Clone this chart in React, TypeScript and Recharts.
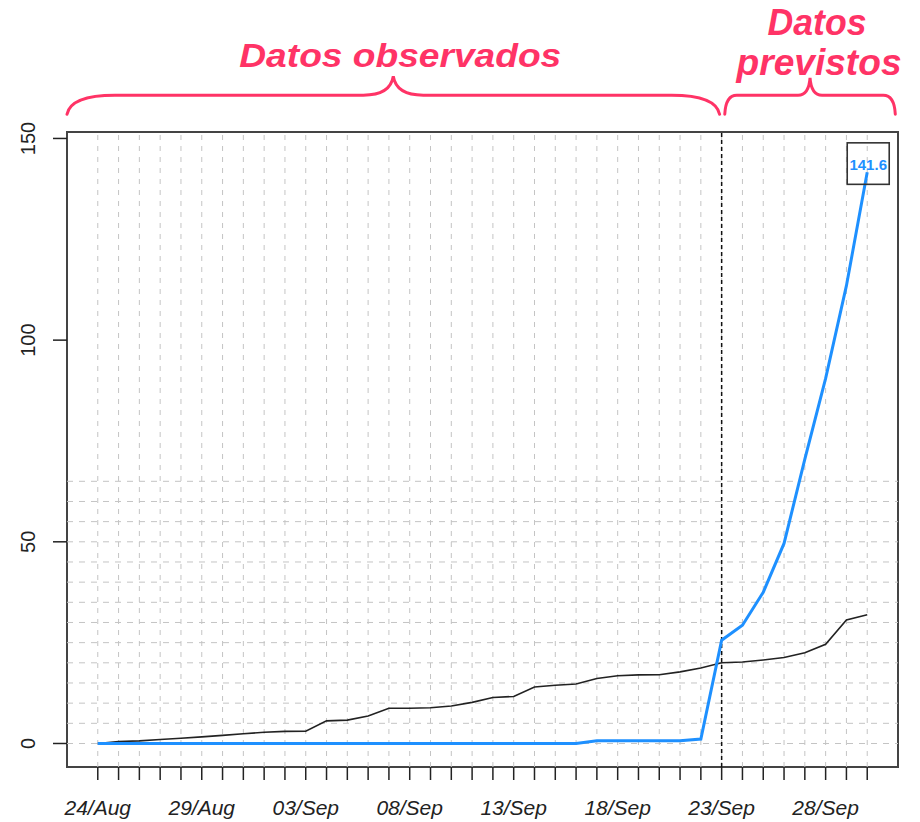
import React from "react";
import { LineChart, Line, XAxis, YAxis, ReferenceLine, ReferenceArea } from "recharts";

const dates = [
  "24/Aug", "25/Aug", "26/Aug", "27/Aug", "28/Aug", "29/Aug", "30/Aug", "31/Aug",
  "01/Sep", "02/Sep", "03/Sep", "04/Sep", "05/Sep", "06/Sep", "07/Sep", "08/Sep",
  "09/Sep", "10/Sep", "11/Sep", "12/Sep", "13/Sep", "14/Sep", "15/Sep", "16/Sep",
  "17/Sep", "18/Sep", "19/Sep", "20/Sep", "21/Sep", "22/Sep", "23/Sep", "24/Sep",
  "25/Sep", "26/Sep", "27/Sep", "28/Sep", "29/Sep", "30/Sep",
];

const observed = [
  0, 0.5, 0.65, 1.0, 1.3, 1.65, 2.0, 2.4, 2.8, 3.0,
  3.05, 5.6, 5.8, 6.8, 8.75, 8.75, 8.85, 9.3, 10.2, 11.4,
  11.65, 14.0, 14.45, 14.75, 16.1, 16.8, 17.0, 17.05, 17.75, 18.7,
  20.0, 20.2, 20.7, 21.3, 22.5, 24.6, 30.6, 31.9,
];

const predicted = [
  0, 0, 0, 0, 0, 0, 0, 0, 0, 0,
  0, 0, 0, 0, 0, 0, 0, 0, 0, 0,
  0, 0, 0, 0, 0.7, 0.7, 0.7, 0.7, 0.7, 1.1,
  25.6, 29.3, 37.5, 49.6, 70.5, 90.5, 113.5, 141.6,
];

const labelDays = [0, 5, 10, 15, 20, 25, 30, 35];
const yTicks = [0, 50, 100, 150];
const hGrid = [0, 5, 10, 15, 20, 25, 30, 35, 40, 45, 50, 55, 60, 65];
const forecastStart = 30;
const xDomain = [-1.48, 38.48];
const yDomain = [-5.83, 151.6];

const data = dates.map((d, i) => ({ day: i, date: d, obs: observed[i], pred: predicted[i] }));
const dayTicks = dates.map((_, i) => i);

const PINK = "#FF3366";
const FONT = "'Liberation Sans', Arial, Helvetica, sans-serif";

const XTick = (props: any) => {
  const { x, y, payload } = props;
  const i = payload.value;
  if (!labelDays.includes(i)) return null;
  return (
    <text x={x} y={y + 35} textAnchor="middle" fontSize={21} fontStyle="italic" fill="#222" fontFamily={FONT}>
      {dates[i]}
    </text>
  );
};

const YTick = (props: any) => {
  const { x, y, payload } = props;
  return (
    <text
      transform={`translate(${x - 18},${y}) rotate(-90)`}
      textAnchor="middle"
      fontSize={20}
      fill="#222"
      fontFamily={FONT}
    >
      {payload.value}
    </text>
  );
};

const makeBrace = (hook: number, cuspW: number, lines: { text: string; dx: number; dy: number; size: number; len: number }[]) =>
  (p: any) => {
    const { x, y, width, height } = p;
    const x0 = x;
    const x1 = x + width;
    const yT = y;
    const yB = y + height;
    const yL = yB - 19;
    const cx = (x0 + x1) / 2;
    const d =
      `M ${x0} ${yB} Q ${x0 + hook * 0.08} ${yL} ${x0 + hook} ${yL} ` +
      `L ${cx - cuspW} ${yL} Q ${cx - cuspW * 0.1} ${yL} ${cx} ${yT} ` +
      `Q ${cx + cuspW * 0.1} ${yL} ${cx + cuspW} ${yL} ` +
      `L ${x1 - hook} ${yL} Q ${x1 - hook * 0.08} ${yL} ${x1} ${yB}`;
    return (
      <g>
        <path d={d} fill="none" stroke={PINK} strokeWidth={3} strokeLinecap="round" />
        {lines.map((l, k) => (
          <text
            key={k}
            x={cx + l.dx}
            y={yT + l.dy}
            textAnchor="middle"
            fontSize={l.size}
            fontWeight="bold"
            fontStyle="italic"
            fill={PINK}
            fontFamily={FONT}
            textLength={l.len}
            lengthAdjust="spacingAndGlyphs"
          >
            {l.text}
          </text>
        ))}
      </g>
    );
  };

const LeftBrace = makeBrace(48, 30, [{ text: "Datos observados", dx: 7, dy: -9.5, size: 34, len: 322 }]);
const RightBrace = makeBrace(12, 12, [
  { text: "Datos", dx: 7, dy: -43, size: 36, len: 99 },
  { text: "previstos", dx: 9, dy: -3, size: 37, len: 165 },
]);

const lastIndex = predicted.length - 1;
const LastLabel = (props: any) => {
  const { x, y, index, value } = props;
  if (index !== lastIndex) return null;
  return (
    <g>
      <rect x={x - 20} y={y - 29.5} width={42} height={41.5} fill="none" stroke="#333" strokeWidth={1.6} />
      <text x={x + 1} y={y - 2} textAnchor="middle" fontSize={15} fontWeight="bold" fill="#1E90FF" fontFamily={FONT}>
        {value}
      </text>
    </g>
  );
};

export default function App() {
  return (
    <div style={{ position: "absolute", left: 0, top: 0, width: 920, height: 822, background: "#fff", fontFamily: FONT }}>
      <LineChart width={920} height={822} data={data} margin={{ top: 132, right: 22, bottom: 0, left: 0 }}>
        <XAxis
          dataKey="day"
          type="number"
          domain={xDomain}
          allowDataOverflow
          ticks={dayTicks}
          interval={0}
          tickSize={13}
          tickMargin={0}
          height={55}
          axisLine={false}
          tickLine={{ stroke: "#222", strokeWidth: 1.5 }}
          tick={<XTick />}
        />
        <YAxis
          type="number"
          domain={yDomain}
          allowDataOverflow
          ticks={yTicks}
          interval={0}
          tickSize={14}
          tickMargin={0}
          width={67}
          axisLine={false}
          tickLine={{ stroke: "#222", strokeWidth: 1.5 }}
          tick={<YTick />}
        />
        {hGrid.map((v) => (
          <ReferenceLine key={`h${v}`} y={v} stroke="#c4c4c4" strokeWidth={1} strokeDasharray="6 6" />
        ))}
        {dayTicks.map((v) => (
          <ReferenceLine key={`v${v}`} x={v} stroke="#c4c4c4" strokeWidth={1} strokeDasharray="5 6" />
        ))}
        <ReferenceLine x={forecastStart} stroke="#111" strokeWidth={1.5} strokeDasharray="4 3" />
        <ReferenceArea
          x1={xDomain[0]}
          x2={xDomain[1]}
          y1={yDomain[0]}
          y2={yDomain[1]}
          fill="none"
          fillOpacity={0}
          stroke="#444"
          strokeWidth={2}
          ifOverflow="visible"
        />
        <ReferenceArea x1={-1.48} x2={29.9} y1={156.0} y2={165.4} ifOverflow="visible" shape={LeftBrace} />
        <ReferenceArea x1={30.15} x2={38.35} y1={156.0} y2={165.0} ifOverflow="visible" shape={RightBrace} />
        <Line
          type="linear"
          dataKey="obs"
          stroke="#222"
          strokeWidth={1.6}
          dot={false}
          isAnimationActive={false}
        />
        <Line
          type="linear"
          dataKey="pred"
          stroke="#1E90FF"
          strokeWidth={3}
          dot={false}
          isAnimationActive={false}
          label={<LastLabel />}
        />
      </LineChart>
    </div>
  );
}
